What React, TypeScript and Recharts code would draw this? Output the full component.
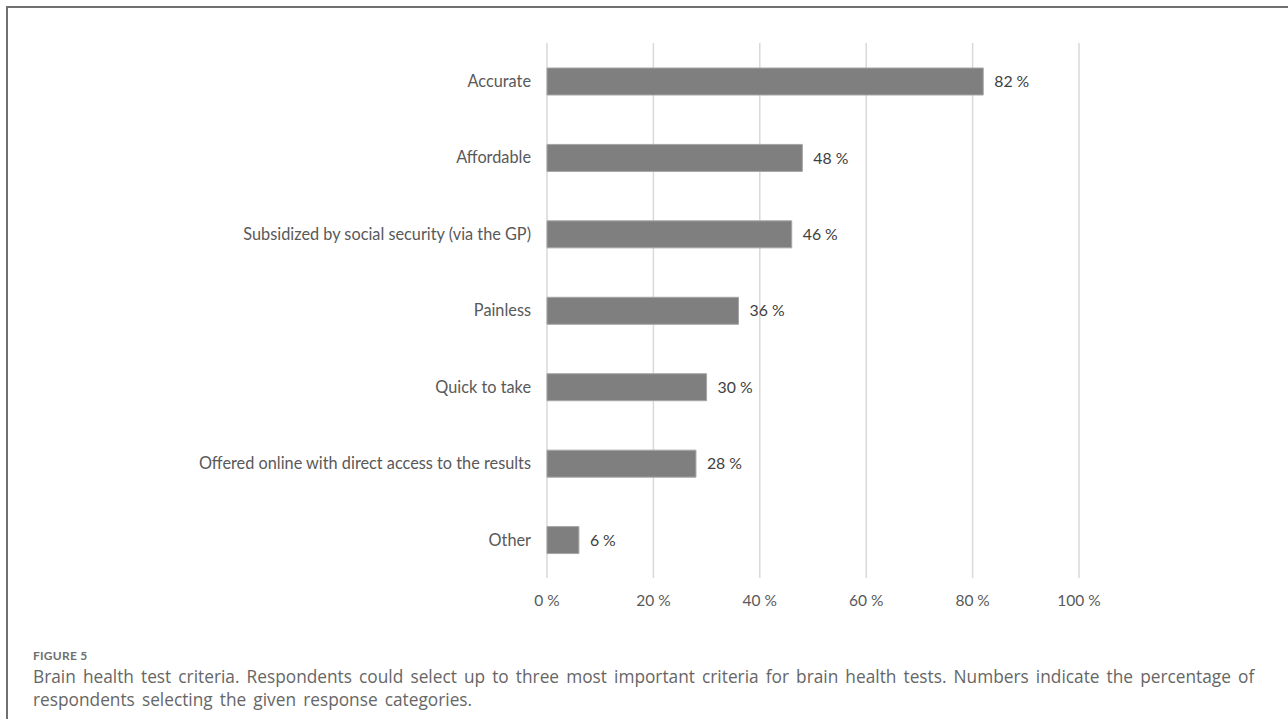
import { BarChart, Bar, XAxis, YAxis, CartesianGrid, LabelList } from "recharts";

const categories = [
  "Accurate",
  "Affordable",
  "Subsidized by social security (via the GP)",
  "Painless",
  "Quick to take",
  "Offered online with direct access to the results",
  "Other",
];
const percents = [82, 48, 46, 36, 30, 28, 6];
const xTicks = [0, 20, 40, 60, 80, 100];

const data = categories.map((name, i) => ({ name, value: percents[i] }));

const FONT = "Lato, 'Open Sans', sans-serif";

export default function App() {
  return (
    <div style={{ position: "absolute", left: 0, top: 0, width: 1288, height: 719, background: "#fff", overflow: "hidden" }}>
      {/* frame, open on right and bottom like the cropped figure */}
      <div style={{
        position: "absolute",
        left: 6,
        top: 6,
        width: 1280,
        height: 720,
        borderTop: "2px solid #707070",
        borderLeft: "2px solid #707070",
      }} />
      <div style={{ position: "absolute", left: 0, top: 0 }}>
        <BarChart
          width={1288}
          height={630}
          data={data}
          layout="vertical"
          margin={{ top: 43, right: 209, bottom: 22, left: 0 }}
          barSize={27}
        >
          <CartesianGrid horizontal={false} stroke="#d9d9d9" strokeWidth={1.5} />
          <XAxis
            type="number"
            domain={[0, 100]}
            ticks={xTicks}
            tickFormatter={(v: number) => `${v} %`}
            axisLine={false}
            tickLine={false}
            tickMargin={11}
            tick={{ fill: "#595959", fontSize: 15.5, fontFamily: FONT }}
          />
          <YAxis
            type="category"
            dataKey="name"
            width={547}
            axisLine={false}
            tickLine={false}
            tickMargin={10}
            interval={0}
            tick={{ fill: "#595959", fontSize: 16.3, fontFamily: FONT }}
          />
          <Bar dataKey="value" fill="#7f7f7f" stroke="#a6a6a6" strokeWidth={1} isAnimationActive={false}>
            <LabelList
              dataKey="value"
              position="right"
              offset={11}
              formatter={(v: number) => `${v} %`}
              style={{ fill: "#404040", fontSize: 15.8, fontFamily: FONT }}
            />
          </Bar>
        </BarChart>
      </div>
      <div style={{
        position: "absolute",
        left: 33,
        top: 648,
        fontFamily: FONT,
        fontSize: 12,
        fontWeight: 700,
        color: "#707070",
        letterSpacing: "0.02em",
      }}>
        FIGURE 5
      </div>
      <div style={{
        position: "absolute",
        left: 33,
        top: 665,
        fontFamily: "'Open Sans', sans-serif",
        fontSize: 17.3,
        lineHeight: "23px",
        wordSpacing: 2.6,
        color: "#666666",
        whiteSpace: "nowrap",
      }}>
        Brain health test criteria. Respondents could select up to three most important criteria for brain health tests. Numbers indicate the percentage of
        <br />
        respondents selecting the given response categories.
      </div>
    </div>
  );
}
